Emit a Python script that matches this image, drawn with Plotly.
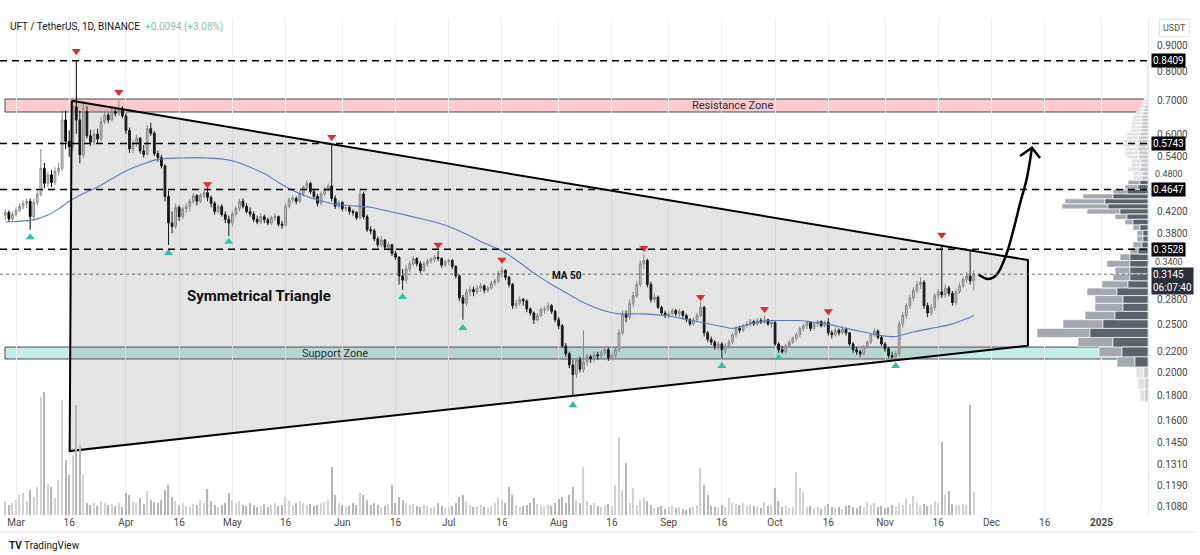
import math
import pandas as pd
import plotly.graph_objects as go

# ---------------- data ----------------
dates = pd.date_range("2024-02-27", "2024-11-26", freq="D")

opens = [
    .412, .418, .406,
    .414, .422, .430, .436, .440, .410, .438, .455, .512, .478, .497, .480, .505, .512, .640, .580, .566, .680, .640, .545,
    .665, .595, .578, .600, .586, .635, .655, .640, .665, .660, .670,
    .652, .610, .560, .575, .588, .555, .546, .615, .602, .548, .538, .518, .450, .398, .392, .428, .410, .425, .430, .440,
    .452, .440, .452, .458, .448, .436, .420, .430, .414, .405,
    .398, .415, .426, .440, .430, .420, .415, .405, .400, .410, .404, .398, .408, .410, .396, .394, .430, .443, .446, .440,
    .456, .470, .478, .460, .450, .436, .455, .465, .472, .446, .430,
    .438, .425, .428, .420, .418, .408, .455, .410, .386, .384, .370, .360, .368, .356, .360, .346, .340, .312, .306, .322,
    .330, .338, .330, .320, .330, .334, .337, .340, .338, .328,
    .333, .335, .326, .312, .282, .275, .290, .293, .290, .295, .298, .292, .295, .302, .305, .316, .320, .310, .300, .272,
    .275, .280, .278, .268, .263, .255, .260, .267, .268, .272, .265,
    .255, .248, .226, .218, .207, .198, .212, .203, .210, .215, .213, .217, .216, .219, .222, .214, .216, .222, .240, .262,
    .258, .275, .285, .300, .330, .335, .300, .280, .283, .270, .263,
    .260, .262, .266, .262, .265, .260, .255, .250, .255, .260, .270, .240, .233, .230, .226, .228, .222, .226, .230, .238,
    .245, .243, .248, .250, .253, .250, .254, .252, .255, .250,
    .252, .228, .222, .220, .226, .230, .234, .238, .245, .248, .252, .245, .250, .253, .248, .252, .240, .238, .243, .240,
    .244, .240, .228, .222, .220, .218, .225, .230, .238, .242, .235,
    .228, .223, .216, .215, .218, .250, .260, .272, .282, .292, .300, .303, .272, .263, .270, .285, .290, .286, .295, .288,
    .276, .290, .298, .307, .312, .3051,
]
highs = [
    .424, .422, .420,
    .428, .436, .442, .446, .446, .445, .462, .560, .525, .505, .508, .515, .525, .670, .668, .610, .700, .8409, .668, .690,
    .682, .612, .612, .615, .650, .668, .662, .675, .680, .700, .682,
    .660, .618, .584, .598, .592, .570, .625, .632, .608, .556, .545, .522, .462, .420, .435, .432, .430, .436, .445, .458,
    .455, .456, .462, .468, .452, .440, .434, .434, .420, .412,
    .420, .430, .445, .446, .436, .428, .420, .412, .416, .414, .408, .412, .416, .412, .402, .436, .448, .452, .450, .462,
    .474, .485, .482, .466, .455, .460, .470, .478, .5743, .452, .442,
    .440, .432, .432, .424, .420, .465, .460, .414, .392, .388, .374, .375, .370, .364, .362, .350, .342, .322, .328, .334,
    .342, .340, .334, .334, .338, .340, .344, .350, .340, .336,
    .338, .337, .328, .314, .286, .294, .298, .297, .299, .302, .300, .298, .305, .308, .320, .326, .322, .312, .302, .280,
    .284, .282, .280, .270, .265, .263, .270, .271, .276, .274, .267,
    .258, .250, .229, .220, .212, .214, .215, .243, .218, .217, .220, .220, .222, .225, .224, .219, .225, .244, .266, .266,
    .280, .290, .305, .335, .345, .338, .304, .288, .285, .272, .266,
    .265, .269, .268, .268, .266, .262, .257, .258, .263, .277, .272, .242, .236, .232, .231, .230, .229, .233, .240, .247,
    .248, .250, .253, .256, .255, .257, .257, .260, .256, .254,
    .253, .230, .226, .228, .232, .236, .241, .247, .250, .254, .253, .252, .255, .254, .254, .257, .243, .246, .245, .247,
    .246, .241, .230, .225, .222, .227, .232, .240, .245, .244, .237,
    .230, .225, .220, .221, .254, .264, .275, .286, .296, .305, .310, .306, .276, .274, .288, .294, .360, .300, .298, .291,
    .294, .302, .310, .318, .3528, .320,
]
lows = [
    .404, .400, .402,
    .410, .418, .424, .426, .386, .405, .432, .450, .468, .470, .470, .474, .495, .505, .560, .540, .555, .600, .524, .538,
    .588, .568, .570, .575, .580, .628, .630, .636, .650, .652, .645,
    .600, .550, .548, .565, .548, .538, .544, .595, .542, .528, .512, .440, .360, .380, .388, .402, .405, .418, .420, .435,
    .432, .436, .446, .440, .428, .414, .416, .410, .398, .375,
    .392, .410, .420, .426, .416, .410, .400, .396, .396, .398, .394, .395, .402, .392, .388, .392, .426, .438, .434, .436,
    .450, .464, .455, .445, .430, .432, .450, .460, .440, .425, .426,
    .420, .420, .414, .412, .404, .405, .405, .382, .378, .366, .356, .356, .352, .350, .342, .336, .300, .2925, .302, .318,
    .326, .326, .316, .318, .326, .330, .332, .334, .324, .325,
    .328, .322, .308, .278, .255, .272, .284, .284, .287, .290, .288, .289, .293, .298, .302, .310, .306, .296, .268, .268,
    .272, .272, .264, .260, .250, .253, .258, .262, .265, .262, .252,
    .244, .224, .215, .204, .179, .195, .200, .200, .206, .209, .210, .212, .213, .216, .211, .211, .214, .220, .238, .252,
    .255, .270, .282, .296, .322, .296, .276, .276, .268, .260, .257,
    .256, .259, .259, .258, .256, .252, .248, .248, .252, .258, .236, .230, .227, .222, .222, .213, .218, .223, .228, .235,
    .240, .241, .245, .247, .248, .248, .250, .250, .248, .246,
    .226, .219, .218, .218, .224, .228, .231, .235, .242, .244, .242, .243, .247, .246, .246, .237, .234, .236, .237, .238,
    .237, .226, .219, .217, .215, .216, .223, .228, .236, .233, .226,
    .220, .214, .213, .2125, .216, .246, .256, .268, .278, .288, .294, .268, .258, .260, .266, .280, .282, .282, .284, .272,
    .272, .287, .295, .302, .300, .292,
]
closes = [
    .418, .406, .414,
    .422, .430, .436, .440, .410, .438, .455, .512, .478, .497, .480, .505, .512, .640, .580, .566, .680, .640, .545, .665,
    .595, .578, .600, .586, .635, .655, .640, .665, .660, .670, .652,
    .610, .560, .575, .588, .555, .546, .615, .602, .548, .538, .518, .450, .398, .392, .428, .410, .425, .430, .440, .452,
    .440, .452, .458, .448, .436, .420, .430, .414, .405, .398,
    .415, .426, .440, .430, .420, .415, .405, .400, .410, .404, .398, .408, .410, .396, .394, .430, .443, .446, .440, .456,
    .470, .478, .460, .450, .436, .455, .465, .472, .446, .430, .438,
    .425, .428, .420, .418, .408, .455, .410, .386, .384, .370, .360, .368, .356, .360, .346, .340, .312, .306, .322, .330,
    .338, .330, .320, .330, .334, .337, .340, .338, .328, .333,
    .335, .326, .312, .282, .275, .290, .293, .290, .295, .298, .292, .295, .302, .305, .316, .320, .310, .300, .272, .275,
    .280, .278, .268, .263, .255, .260, .267, .268, .272, .265, .255,
    .248, .226, .218, .207, .198, .212, .203, .210, .215, .213, .217, .216, .219, .222, .214, .216, .222, .240, .262, .258,
    .275, .285, .300, .330, .335, .300, .280, .283, .270, .263, .260,
    .262, .266, .262, .265, .260, .255, .250, .255, .260, .270, .240, .233, .230, .226, .228, .222, .226, .230, .238, .245,
    .243, .248, .250, .253, .250, .254, .252, .255, .250, .252,
    .228, .222, .220, .226, .230, .234, .238, .245, .248, .252, .245, .250, .253, .248, .252, .240, .238, .243, .240, .244,
    .240, .228, .222, .220, .218, .225, .230, .238, .242, .235, .228,
    .223, .216, .215, .218, .250, .260, .272, .282, .292, .300, .303, .272, .263, .270, .285, .290, .286, .295, .288, .276,
    .290, .298, .307, .312, .3051, .3145,
]
volumes = [
    14, 10, 12,
    15, 20, 22, 14, 25, 18, 28, 118, 123, 31, 28, 17, 35, 115, 55, 40, 60, 110, 70, 40, 12, 10, 12, 9, 14, 12, 10, 11, 9, 12, 8,
    22, 20, 13, 12, 17, 11, 24, 15, 13, 12, 15, 25, 30, 18, 14, 10, 12, 9, 8, 11, 10, 15, 12, 26, 14, 10, 8, 10, 12, 22,
    15, 12, 14, 10, 9, 12, 10, 8, 9, 11, 8, 10, 12, 9, 10, 18, 14, 10, 12, 14, 12, 10, 11, 9, 10, 12, 13, 15, 48, 20, 12,
    10, 8, 9, 12, 10, 22, 20, 15, 10, 12, 10, 8, 9, 11, 30, 12, 18, 15, 12, 10, 11, 9, 8, 10, 9, 7, 8, 12, 9, 7,
    8, 9, 12, 18, 20, 14, 10, 8, 9, 10, 8, 7, 9, 12, 17, 15, 12, 28, 20, 10, 8, 9, 10, 12, 17, 11, 9, 8, 10, 9, 12,
    16, 18, 12, 20, 28, 15, 12, 48, 14, 10, 12, 9, 8, 10, 11, 9, 30, 78, 25, 52, 12, 27, 10, 15, 17, 14, 10, 7, 8, 9, 6,
    8, 9, 7, 8, 6, 5, 7, 8, 10, 47, 30, 20, 9, 8, 7, 10, 8, 17, 12, 11, 10, 12, 9, 10, 9, 8, 7, 13, 9, 10,
    27, 14, 8, 9, 7, 8, 43, 27, 23, 8, 9, 7, 8, 6, 9, 11, 8, 7, 8, 6, 9, 10, 8, 7, 9, 8, 13, 10, 12, 8, 9,
    7, 8, 10, 9, 12, 10, 17, 11, 19, 12, 10, 11, 9, 10, 14, 12, 73, 20, 24, 11, 10, 10, 11, 10, 110, 23,
]

ma_dates = [
    "2024-02-27", "2024-03-01", "2024-03-06", "2024-03-10", "2024-03-13", "2024-03-16", "2024-03-20", "2024-03-24",
    "2024-03-28", "2024-04-01", "2024-04-05", "2024-04-09", "2024-04-12", "2024-04-16", "2024-04-20", "2024-04-24",
    "2024-04-28", "2024-05-02", "2024-05-06", "2024-05-10", "2024-05-14", "2024-05-18", "2024-05-22", "2024-05-26",
    "2024-05-30", "2024-06-04", "2024-06-09", "2024-06-13", "2024-06-17", "2024-06-22", "2024-06-27", "2024-07-01",
    "2024-07-06", "2024-07-11", "2024-07-16", "2024-07-21", "2024-07-25", "2024-07-30", "2024-08-03", "2024-08-08",
    "2024-08-13", "2024-08-18", "2024-08-24", "2024-08-31", "2024-09-05", "2024-09-10", "2024-09-15", "2024-09-19",
    "2024-09-24", "2024-09-29", "2024-10-04", "2024-10-08", "2024-10-12", "2024-10-17", "2024-10-21", "2024-10-26",
    "2024-10-31", "2024-11-04", "2024-11-09", "2024-11-14", "2024-11-19", "2024-11-24", "2024-11-26",
]
ma_values = [
    .400, .401, .404, .413, .425, .440, .456, .470,
    .488, .506, .520, .532, .536, .537, .538, .537,
    .535, .528, .515, .500, .480, .463, .450, .441,
    .434, .431, .428, .422, .416, .408, .400, .392,
    .378, .363, .350, .332, .316, .300, .289, .276,
    .267, .262, .262, .260, .256, .252, .248, .245,
    .250, .254, .254, .254, .252, .249, .245, .241,
    .237, .236, .241, .245, .249, .256, .260,
]

key_levels = [0.8409, 0.5743, 0.4647, 0.3528]
last_price = 0.3145
countdown = "06:07:40"
header_title = "UFT / TetherUS, 1D, BINANCE"
header_change = "+0.0094 (+3.08%)"

resistance_zone = [0.664, 0.705]
support_zone = [0.2128, 0.2248]
zone_start = "2024-02-26 22:00"

triangle_dates = ["2024-03-16 17:00", "2024-12-11 07:00", "2024-12-11 07:00", "2024-03-16 03:00", "2024-03-16 17:00"]
triangle_prices = [0.699, 0.3357, 0.2262, 0.1392, 0.699]

arrow_dates = ["2024-11-27 07:00", "2024-11-30 02:00", "2024-12-02 12:00", "2024-12-05 07:00",
               "2024-12-07 05:00", "2024-12-09 02:00", "2024-12-11 00:00", "2024-12-12 09:00"]
arrow_prices = [0.3145, 0.3076, 0.314, 0.346, 0.386, 0.436, 0.49, 0.560]
arrow_head_dates = ["2024-12-09 02:00", "2024-12-12 09:30", "2024-12-14 17:00"]
arrow_head_prices = [0.542, 0.563, 0.537]

peak_dates = ["2024-03-18", "2024-03-30", "2024-04-24", "2024-05-29", "2024-06-28", "2024-07-16",
              "2024-08-25", "2024-09-10", "2024-09-28", "2024-10-16", "2024-11-17"]
peak_prices = [0.8795, 0.728, 0.476, 0.592, 0.360, 0.336, 0.355, 0.283, 0.268, 0.265, 0.377]
trough_dates = ["2024-03-05", "2024-04-13", "2024-04-30", "2024-06-18", "2024-07-05", "2024-08-05",
                "2024-09-16", "2024-10-02", "2024-11-04"]
trough_prices = [0.373, 0.3467, 0.365, 0.283, 0.2455, 0.172, 0.206, 0.2137, 0.206]

# visible-range volume profile: bin start prices, buy (dark) and sell (light) volumes
vp_bins = [
    0.175, 0.185, 0.195, 0.205, 0.215, 0.225, 0.235, 0.245, 0.255, 0.265, 0.275, 0.285, 0.295, 0.305, 0.315,
    0.325, 0.335, 0.345, 0.355, 0.365, 0.375, 0.385, 0.395, 0.405, 0.415, 0.425, 0.435, 0.445, 0.455, 0.465,
    0.475, 0.485, 0.495, 0.505, 0.515, 0.525, 0.535, 0.545, 0.555, 0.565, 0.575, 0.585, 0.595, 0.605, 0.615,
    0.625, 0.635, 0.645, 0.655, 0.665, 0.675, 0.685, 0.695, 0.705, 0.715, 0.725, 0.735, 0.745, 0.755, 0.765,
    0.775, 0.785, 0.795, 0.805, 0.815, 0.825, 0.835,
]
vp_buy = [
    3, 3, 4, 13, 26, 35, 58, 45, 33, 25, 25, 31, 20, 18, 18,
    18, 18, 10, 6, 5, 5, 8, 15, 21, 28, 40, 43, 35, 21, 10,
    8, 6, 6, 8, 7, 7, 9, 9, 10, 10, 10, 9, 8, 7, 7,
    7, 6, 6, 5, 4, 3, 2, 2, 1, 1, 1, 1, 1, 1, 1,
    1, 1, 1, 1, 1, 1, 1,
]
vp_sell = [
    5, 7, 8, 18, 23, 35, 53, 40, 30, 28, 28, 30, 26, 17, 15,
    23, 10, 8, 9, 6, 6, 7, 8, 12, 33, 46, 40, 30, 14, 13,
    12, 9, 9, 12, 10, 10, 12, 14, 13, 15, 15, 12, 13, 11, 10,
    10, 9, 9, 7, 5, 3, 3, 2, 2, 1, 1, 1, 1, 1, 0,
    0, 1, 1, 1, 1, 2, 2,
]
vp_row = 0.01
value_area = [0.205, 0.485]

price_ticks = [0.108, 0.119, 0.131, 0.145, 0.16, 0.18, 0.2, 0.22, 0.25, 0.28, 0.38, 0.42, 0.54,
               0.6, 0.7, 0.8, 0.9]
# tick labels squeezed by the highlighted price boxes (nudged off them)
squeezed_ticks = [0.48, 0.34]
squeezed_shift = [8, -5]
date_ticks = ["2024-03-01", "2024-03-16", "2024-04-01", "2024-04-16", "2024-05-01", "2024-05-16", "2024-06-01",
              "2024-06-16", "2024-07-01", "2024-07-16", "2024-08-01", "2024-08-16", "2024-09-01", "2024-09-16",
              "2024-10-01", "2024-10-16", "2024-11-01", "2024-11-16", "2024-12-01", "2024-12-16", "2025-01-01"]
date_labels = ["Mar", "16", "Apr", "16", "May", "16", "Jun", "16", "Jul", "16", "Aug", "16", "Sep", "16",
               "Oct", "16", "Nov", "16", "Dec", "16", "<b>2025</b>"]

n = len(dates)
lens = [len(opens), len(highs), len(lows), len(closes), len(volumes)]
if any(l != n for l in lens) or len(ma_dates) != len(ma_values) or len(vp_bins) != len(vp_buy) or len(vp_bins) != len(vp_sell):
    raise SystemExit(f"length mismatch: {n} {lens} {len(ma_dates)} {len(ma_values)} {len(vp_bins)} {len(vp_buy)} {len(vp_sell)}")

# ---------------- figure ----------------
FONT = "Roboto, 'Open Sans', sans-serif"
x_range = ["2024-02-25 11:46", "2025-01-14 03:22"]
y_range = [math.log10(0.1037), math.log10(1.0239)]
PLOT_W = 1148
PLOT_H = 497

fig = go.Figure()

# triangle fill
fig.add_trace(go.Scatter(x=triangle_dates, y=triangle_prices, mode="lines", fill="toself",
                         fillcolor="rgba(120,120,120,0.20)", line=dict(width=0), hoverinfo="skip"))

# candles
fig.add_trace(go.Candlestick(
    x=dates, open=opens, high=highs, low=lows, close=closes,
    increasing=dict(line=dict(color="#8a8a8a", width=1), fillcolor="#dadada"),
    decreasing=dict(line=dict(color="#000000", width=1), fillcolor="#000000"),
    whiskerwidth=0, hoverinfo="skip"))

# MA 50
fig.add_trace(go.Scatter(x=ma_dates, y=ma_values, mode="lines",
                         line=dict(color="#5b7dbf", width=1.1, shape="spline", smoothing=0.6), hoverinfo="skip"))

# triangle outline
fig.add_trace(go.Scatter(x=triangle_dates, y=triangle_prices, mode="lines",
                         line=dict(color="#000000", width=2), hoverinfo="skip"))

# pivot markers
fig.add_trace(go.Scatter(x=peak_dates, y=peak_prices, mode="markers",
                         marker=dict(symbol="triangle-down", size=8, color="#e8262f"), hoverinfo="skip"))
fig.add_trace(go.Scatter(x=trough_dates, y=trough_prices, mode="markers",
                         marker=dict(symbol="triangle-up", size=8, color="#2ec4a2"), hoverinfo="skip"))

# projected arrow
fig.add_trace(go.Scatter(x=arrow_dates, y=arrow_prices, mode="lines",
                         line=dict(color="#000000", width=2.5, shape="spline", smoothing=1.0), hoverinfo="skip"))
fig.add_trace(go.Scatter(x=arrow_head_dates, y=arrow_head_prices, mode="lines",
                         line=dict(color="#000000", width=2.5), hoverinfo="skip"))

# volume
vol_colors = ["#d2d2d2" if c >= o else "#b6b6b6" for o, c in zip(opens, closes)]
fig.add_trace(go.Bar(x=dates, y=volumes, marker=dict(color=vol_colors, line=dict(width=0)),
                     width=0.35 * 86400000, xaxis="x", yaxis="y2", hoverinfo="skip"))

# volume profile
def rows(starts, ends, bins, inside):
    xs, ys = [], []
    for a, b, lo in zip(starts, ends, bins):
        in_va = value_area[0] <= lo < value_area[1]
        if in_va != inside or b <= a:
            continue
        hi = lo + vp_row
        xs += [a, b, b, a, a, None]
        ys += [lo, lo, hi, hi, lo, None]
    return xs, ys

zeros = [0] * len(vp_bins)
totals = [b + s for b, s in zip(vp_buy, vp_sell)]
for inside, dark, light in [(True, "#5d6169", "#a5a8ae"), (False, "#c6c8cc", "#e2e3e6")]:
    xs, ys = rows(vp_buy, totals, vp_bins, inside)
    fig.add_trace(go.Scatter(x=xs, y=ys, mode="lines", fill="toself", fillcolor=light,
                             line=dict(color="white", width=0.6), xaxis="x2", yaxis="y", hoverinfo="skip"))
    xs, ys = rows(zeros, vp_buy, vp_bins, inside)
    fig.add_trace(go.Scatter(x=xs, y=ys, mode="lines", fill="toself", fillcolor=dark,
                             line=dict(color="white", width=0.6), xaxis="x2", yaxis="y", hoverinfo="skip"))

shapes = []
# zones
for (lo, hi), fill in [(resistance_zone, "rgba(242,54,69,0.26)"), (support_zone, "rgba(38,190,160,0.26)")]:
    shapes.append(dict(type="rect", xref="x", yref="y", x0=zone_start, x1=x_range[1], y0=lo, y1=hi,
                       fillcolor=fill, line=dict(color="#4a4a4a", width=1), layer="below"))
# key horizontal levels
for lvl in key_levels:
    shapes.append(dict(type="line", xref="paper", yref="y", x0=0, x1=1, y0=lvl, y1=lvl,
                       line=dict(color="#000000", width=1.6, dash="7px,5px"), layer="above"))
shapes.append(dict(type="line", xref="paper", yref="y", x0=0, x1=1, y0=last_price, y1=last_price,
                   line=dict(color="#6b6b6b", width=1, dash="dot"), layer="above"))
# bottom frame line
shapes.append(dict(type="line", xref="paper", yref="paper", x0=0, x1=1197 / PLOT_W, y0=-17 / PLOT_H, y1=-17 / PLOT_H,
                   line=dict(color="#e0e3eb", width=1)))

annotations = []
for v, sh in zip(squeezed_ticks, squeezed_shift):
    annotations.append(dict(xref="paper", yref="y", x=1, y=math.log10(v), xanchor="left", yanchor="middle",
                            xshift=6, yshift=sh, text=f"{v:.4f}", showarrow=False, borderpad=0,
                            font=dict(color="#4a4a4a", size=9, family=FONT)))
for lvl in key_levels:
    annotations.append(dict(xref="paper", yref="y", x=1, y=math.log10(lvl), xanchor="left", yanchor="middle",
                            xshift=3, text=f"{lvl:.4f}", showarrow=False, bgcolor="#000000",
                            font=dict(color="white", size=10, family=FONT), borderpad=1))
annotations.append(dict(xref="paper", yref="y", x=1, y=math.log10(last_price), xanchor="left", yanchor="top",
                        xshift=3, yshift=7, text=f"{last_price:.4f}<br>{countdown}", showarrow=False,
                        bgcolor="#2a2e39", font=dict(color="white", size=10, family=FONT), borderpad=1, align="left"))
annotations.append(dict(xref="paper", yref="paper", x=1174 / PLOT_W, y=(515 - 28) / PLOT_H, xanchor="center",
                        yanchor="middle", text="USDT", showarrow=False, bgcolor="white", bordercolor="#e0e3eb",
                        borderwidth=1, borderpad=3, font=dict(color="#555555", size=9, family=FONT)))
annotations.append(dict(xref="paper", yref="paper", x=0, xshift=8, y=(515 - 27) / PLOT_H, xanchor="left",
                        yanchor="middle", showarrow=False,
                        text=f"{header_title}  <span style='color:#86c2a6'>{header_change}</span>",
                        font=dict(color="#131722", size=10, family=FONT)))
annotations.append(dict(xref="paper", yref="paper", x=0, xshift=7, y=(515 - 545) / PLOT_H, xanchor="left",
                        yanchor="middle", showarrow=False, text="<b>TV</b> TradingView",
                        font=dict(color="#131722", size=10, family=FONT)))
annotations.append(dict(xref="x", yref="y", x="2024-09-19", y=math.log10(0.6847), text="Resistance Zone",
                        showarrow=False, font=dict(color="#2a2e39", size=11, family=FONT)))
annotations.append(dict(xref="x", yref="y", x="2024-05-30", y=math.log10(0.2187), text="Support Zone",
                        showarrow=False, font=dict(color="#2a2e39", size=11, family=FONT)))
annotations.append(dict(xref="x", yref="y", x="2024-05-08 12:00", y=math.log10(0.2844), text="<b>Symmetrical Triangle</b>",
                        showarrow=False, font=dict(color="#111111", size=15, family=FONT)))
annotations.append(dict(xref="x", yref="y", x="2024-08-03 07:00", y=math.log10(0.3133), text="<b>MA 50</b>",
                        showarrow=False, font=dict(color="#111111", size=10, family=FONT)))

fig.update_layout(
    width=1200, height=555,
    margin=dict(l=0, r=52, t=18, b=40),
    paper_bgcolor="white", plot_bgcolor="white",
    showlegend=False,
    font=dict(family=FONT, size=10, color="#131722"),
    xaxis=dict(type="date", range=x_range, tickvals=date_ticks, ticktext=date_labels,
               showgrid=True, gridcolor="#eef0f4", gridwidth=1, zeroline=False, ticks="",
               rangeslider=dict(visible=False), tickfont=dict(size=10, color="#4a4a4a"), showline=False),
    yaxis=dict(type="log", range=y_range, side="right", tickvals=price_ticks,
               ticktext=[f"{v:.4f}" for v in price_ticks], showgrid=False, zeroline=False, ticks="",
               tickfont=dict(size=10, color="#4a4a4a"), showline=True, linecolor="#e6e8ee",
               ticklabelstandoff=6),
    yaxis2=dict(overlaying="y", range=[0, PLOT_H], visible=False, anchor="x"),
    xaxis2=dict(overlaying="x", range=[PLOT_W, 0], visible=False, anchor="y", type="linear"),
    shapes=shapes,
    annotations=annotations,
)

fig.write_html("out.html", config={"displayModeBar": False})
